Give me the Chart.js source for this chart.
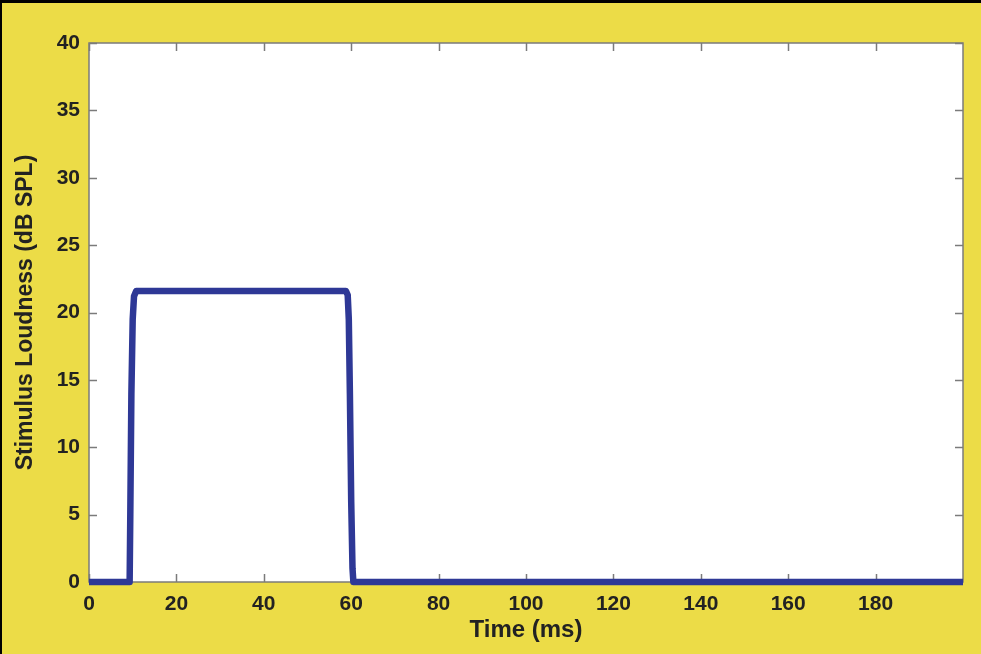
<!DOCTYPE html>
<html>
<head>
<meta charset="utf-8">
<script src="https://cdn.jsdelivr.net/npm/chart.js@4.4.1/dist/chart.umd.min.js"></script>
<style>
  html, body { margin: 0; padding: 0; background: #000; }
  #wrap { position: absolute; left: 0; top: 0; width: 981px; height: 654px; }
  #bg { position: absolute; left: 2px; top: 3px; right: 0; bottom: 0; background: #ECDC47; }
  canvas { position: absolute; left: 0; top: 0; }
</style>
</head>
<body>
<div id="wrap">
  <div id="bg"></div>
  <canvas id="myChart" width="981" height="654"></canvas>
</div>
<script>
// stimulus envelope
const timeMs   = [0, 9.3, 9.45, 9.7, 10.0, 10.3, 10.8, 58.8, 59.2, 59.45, 59.7, 60.0, 60.3, 60.5, 200];
const loudness = [0, 0,   5,    14,  19.5, 21.2, 21.6, 21.6, 21.3, 19.5,  14,   6,    1,    0,    0];
const xTicks = [0, 20, 40, 60, 80, 100, 120, 140, 160, 180];
const yTicks = [0, 5, 10, 15, 20, 25, 30, 35, 40];

const axisGrey = '#7b7b7b';
const textCol = '#222222';

function dados(){
	let pts = [];
	for (let i = 0; i < timeMs.length; i++){
		pts.push({x: timeMs[i], y: loudness[i]})
	}
	return pts
}

const fundo = {
	id: 'fundo',
	beforeDraw(chart){
		const a = chart.chartArea, c = chart.ctx;
		c.save();
		c.fillStyle = '#ffffff';
		c.fillRect(a.left, a.top, a.right - a.left, a.bottom - a.top);
		c.restore();
	},
	beforeDatasetsDraw(chart){
		// box + inward ticks on all four sides (matlab style)
		const a = chart.chartArea, c = chart.ctx;
		const sx = chart.scales.x, sy = chart.scales.y;
		c.save();
		c.strokeStyle = axisGrey;
		c.lineWidth = 1.5;
		c.strokeRect(a.left, a.top, a.right - a.left, a.bottom - a.top);
		c.beginPath();
		xTicks.forEach(v => {
			const px = Math.round(sx.getPixelForValue(v)) + 0.5;
			c.moveTo(px, a.bottom); c.lineTo(px, a.bottom - 8);
			c.moveTo(px, a.top); c.lineTo(px, a.top + 8);
		});
		yTicks.forEach(v => {
			const py = Math.round(sy.getPixelForValue(v)) + 0.5;
			c.moveTo(a.left, py); c.lineTo(a.left + 8, py);
			c.moveTo(a.right, py); c.lineTo(a.right - 8, py);
		});
		c.stroke();
		c.restore();
	}
};

const ctx = document.getElementById('myChart').getContext('2d');
const grafico = new Chart(ctx, {
	type: 'line',
	data: {
		datasets: [{
			data: dados(),
			borderColor: '#2E3896',
			borderWidth: 6.5,
			pointRadius: 0,
			fill: false,
			tension: 0,
			borderJoinStyle: 'round',
			borderCapStyle: 'butt',
			clip: false
		}]
	},
	options: {
		responsive: false,
		animation: false,
		events: [],
		layout: { padding: { left: 0, top: 43, right: 18, bottom: 0 } },
		plugins: { legend: { display: false }, tooltip: { enabled: false } },
		scales: {
			x: {
				type: 'linear',
				min: 0, max: 200,
				afterFit(s){ s.height = 72; },
				afterBuildTicks(s){ s.ticks = xTicks.map(v => ({value: v})); },
				grid: { drawOnChartArea: false, drawTicks: false },
				border: { display: false },
				ticks: {
					color: textCol, padding: 10,
					font: { family: 'Liberation Sans', size: 21, weight: 'bold' },
					maxRotation: 0
				},
				title: {
					display: true, text: 'Time (ms)', color: textCol,
					padding: { top: 0, bottom: 9 },
					font: { family: 'Liberation Sans', size: 24, weight: 'bold' }
				}
			},
			y: {
				min: 0, max: 40,
				afterFit(s){ s.width = 89; },
				afterBuildTicks(s){ s.ticks = yTicks.map(v => ({value: v})); },
				grid: { drawOnChartArea: false, drawTicks: false },
				border: { display: false },
				ticks: {
					color: textCol, padding: 9,
					font: { family: 'Liberation Sans', size: 21, weight: 'bold' }
				},
				title: {
					display: true, text: 'Stimulus Loudness (dB SPL)', color: textCol,
					padding: { top: 12, bottom: 0 },
					font: { family: 'Liberation Sans', size: 23, weight: 'bold' }
				}
			}
		}
	},
	plugins: [fundo]
});
</script>
</body>
</html>
